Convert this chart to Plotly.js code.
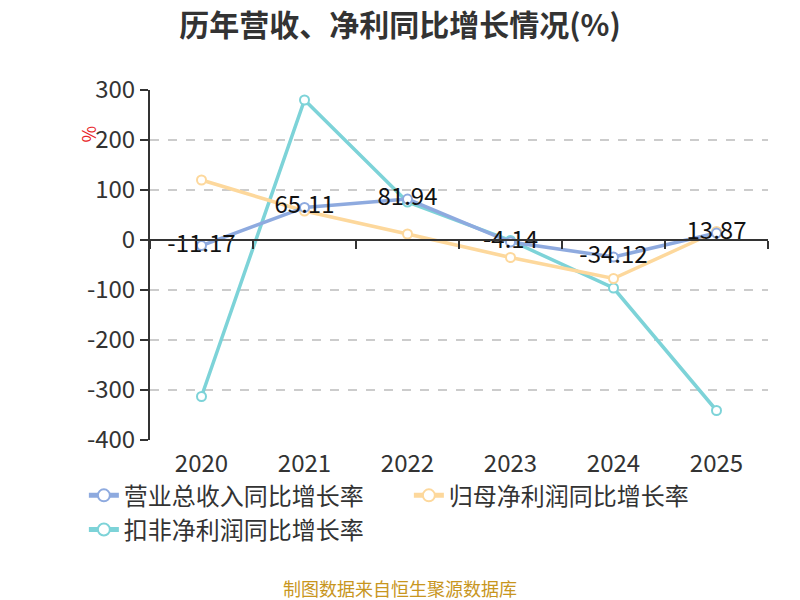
<!DOCTYPE html>
<html>
<head>
<meta charset="utf-8">
<script src="https://cdn.plot.ly/plotly-3.0.1.min.js"></script>
<style>
html, body { margin: 0; padding: 0; background: #fff; }
#chart { width: 800px; height: 600px; }
</style>
</head>
<body>
<div id="chart"></div>
<script>
var years = ['2020', '2021', '2022', '2023', '2024', '2025'];
var revenueGrowth = [-11.17, 65.11, 81.94, -4.14, -34.12, 13.87];
var netProfitGrowth = [120, 58, 12, -35, -77, 17];
var deductedProfitGrowth = [-313, 280, 76, -1, -96, -341];
var revenueLabels = ['-11.17', '65.11', '81.94', '-4.14', '-34.12', '13.87'];
var yTickVals = [300, 200, 100, 0, -100, -200, -300, -400];
var yTickText = ['300', '200', '100', '0', '-100', '-200', '-300', '-400'];

var FONT = '"Noto Sans CJK SC", "Noto Sans", sans-serif';

function series(name, y, color, rank)
{
    return {
        x: years,
        y: y,
        name: name,
        legendrank: rank,
        type: 'scatter',
        mode: 'lines+markers',
        line: { color: color, width: 3.5 },
        marker: { size: 9, color: '#ffffff', line: { color: color, width: 2 } },
        hoverinfo: 'x+y'
    };
}

var trace1 = series('营业总收入同比增长率', revenueGrowth, '#8eaadf', 1);
var trace2 = series('归母净利润同比增长率', netProfitGrowth, '#fdd89c', 2);
var trace3 = series('扣非净利润同比增长率', deductedProfitGrowth, '#7dd3d8', 3);

var labels = {
    x: years,
    y: revenueGrowth,
    text: revenueLabels,
    type: 'scatter',
    mode: 'text',
    textposition: 'middle center',
    textfont: { family: FONT, size: 24, color: '#111111' },
    showlegend: false,
    hoverinfo: 'skip'
};

var layout = {
    width: 800,
    height: 600,
    margin: { l: 150, r: 32, t: 90, b: 160 },
    paper_bgcolor: '#ffffff',
    plot_bgcolor: '#ffffff',
    font: { family: FONT, color: '#333333' },
    title: {
        text: '<b>历年营收、净利同比增长情况(%)</b>',
        font: { family: FONT, size: 30, color: '#333333' },
        x: 0.5, xanchor: 'center',
        y: 0.958, yanchor: 'middle'
    },
    xaxis: {
        type: 'category',
        range: [-0.5, 5.5],
        showline: false,
        showgrid: false,
        zeroline: false,
        ticks: '',
        ticklabelstandoff: 7,
        tickfont: { family: FONT, size: 24, color: '#333333' },
        fixedrange: true
    },
    xaxis2: {
        type: 'category',
        overlaying: 'x',
        matching: 'x',
        anchor: 'free',
        position: 400 / 700,
        range: [-0.5, 5.5],
        showline: true,
        linecolor: '#333333',
        linewidth: 2,
        ticks: 'outside',
        tickson: 'boundaries',
        ticklen: 8,
        tickcolor: '#333333',
        tickwidth: 2,
        showticklabels: false,
        showgrid: false,
        zeroline: false
    },
    yaxis: {
        range: [-400, 300],
        tickvals: yTickVals,
        ticktext: yTickText,
        showline: true,
        linecolor: '#333333',
        linewidth: 2,
        ticks: 'outside',
        ticklen: 8,
        tickcolor: '#333333',
        tickwidth: 2,
        showgrid: true,
        gridcolor: '#cccccc',
        griddash: 'dash',
        gridwidth: 1.5,
        zeroline: false,
        tickfont: { family: FONT, size: 24, color: '#333333' },
        fixedrange: true
    },
    legend: {
        orientation: 'h',
        x: -0.107,
        xanchor: 'left',
        y: -0.095,
        yanchor: 'top',
        entrywidth: 280,
        entrywidthmode: 'pixels',
        font: { family: FONT, size: 24, color: '#333333' },
        itemsizing: 'constant',
        tracegroupgap: 0
    },
    annotations: [
        {
            text: '%',
            xref: 'paper', yref: 'paper',
            x: -0.125, y: 0.905,
            showarrow: false,
            textangle: -90,
            font: { family: FONT, size: 18, color: '#e8262a' }
        },
        {
            text: '制图数据来自恒生聚源数据库',
            xref: 'paper', yref: 'paper',
            x: 0.405, y: -0.422,
            xanchor: 'center', yanchor: 'middle',
            showarrow: false,
            font: { family: FONT, size: 18, color: '#c8961e' }
        }
    ],
    showlegend: true
};

var axisTrace = { x: years, y: [null, null, null, null, null, null], xaxis: 'x2', showlegend: false, hoverinfo: 'skip', mode: 'lines' };

Plotly.newPlot('chart', [axisTrace, trace3, trace2, trace1, labels], layout, { displayModeBar: false, staticPlot: true });
</script>
</body>
</html>
